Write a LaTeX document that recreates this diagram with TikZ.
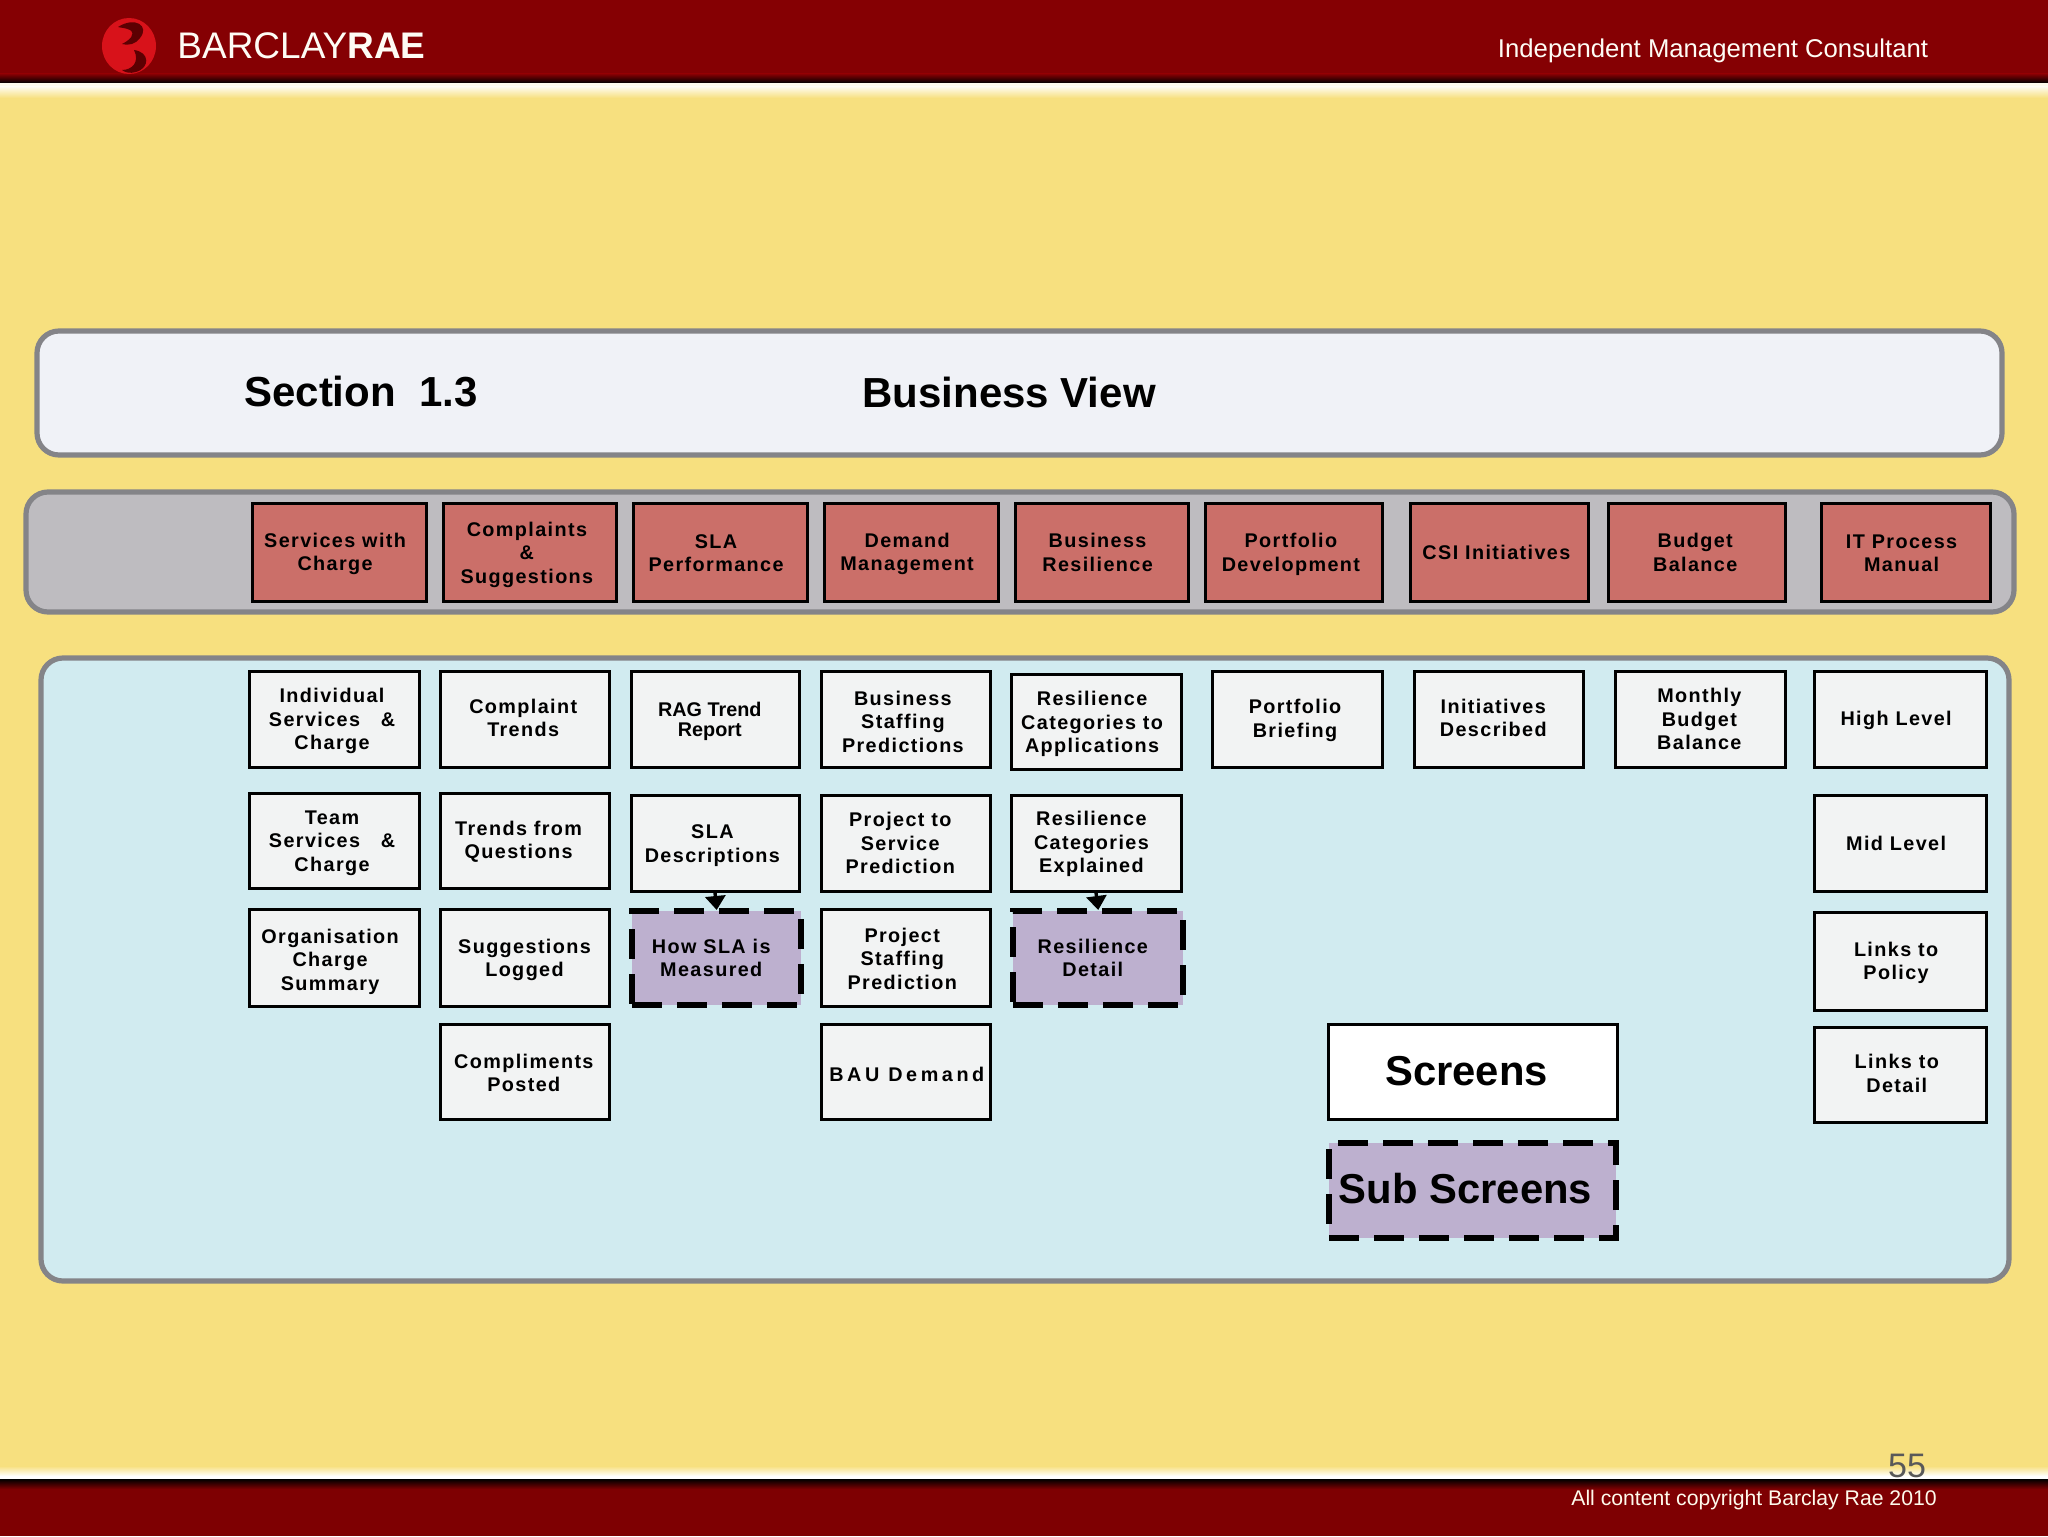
\documentclass[tikz,border=0pt]{standalone}
\usepackage{fontspec}
\setmainfont{Liberation Sans}
\newfontfamily\boxfont[LetterSpace=7]{Liberation Sans}
\newfontfamily\wideboxfont[LetterSpace=18]{Liberation Sans}
\usetikzlibrary{arrows.meta}
\definecolor{bandred}{HTML}{850003}
\definecolor{footred}{HTML}{7E0002}
\definecolor{bgyellow}{HTML}{F7E07F}
\definecolor{paleblue}{HTML}{D1EBF0}
\definecolor{panelwhite}{HTML}{F0F2F7}
\definecolor{panelgrey}{HTML}{BEBCC0}
\definecolor{edgegrey}{HTML}{848488}
\definecolor{topred}{HTML}{CB6F69}
\definecolor{boxgrey}{HTML}{F2F3F3}
\definecolor{subpurple}{HTML}{BDB0CF}
\definecolor{logored}{HTML}{D8121A}
\tikzset{
  x=0.5pt,y=-0.5pt,
  panel/.style={draw=edgegrey,line width=2.6pt,rounded corners=11pt},
  basebox/.style={draw=black,line width=1.5pt,inner sep=0pt},
  boxtext/.style={inner sep=0pt,align=center,text=black,
    font=\boxfont\bfseries\fontsize{9.9}{11.75}\selectfont},
  topbox/.style={basebox,fill=topred},
  contentbox/.style={basebox,fill=boxgrey},
  subbox/.style={basebox,fill=subpurple,line width=3pt,dash pattern=on 15pt off 7.5pt},
  titletext/.style={font=\bfseries\fontsize{21}{24}\selectfont,text=black,inner sep=0pt},
  legendtext/.style={font=\bfseries\fontsize{20.9}{24}\selectfont,text=black,inner sep=0pt},
  linkarrow/.style={draw=black,line width=1.7pt,-{Triangle[length=7pt,width=10pt]},shorten >=-1pt},
}
% name, x0, y0, x1, y1, style, text, text dx, text dy
\newcommand{\bx}[9]{%
  \node[#6,minimum width=\numexpr#4-#2\relax*0.5pt,minimum height=\numexpr#5-#3\relax*0.5pt] (#1) at ({(#2+#4)/2},{(#3+#5)/2}) {};
  \node[boxtext] (#1t) at ({(#2+#4)/2+1.306*(#8)},{(#3+#5)/2+1.306*(#9)}) {#7};}
\begin{document}
\begin{tikzpicture}
\useasboundingbox (0,0) rectangle (2048,1536);
\fill[bgyellow] (0,0) rectangle (2048,1536);
% header band
\fill[bandred] (0,0) rectangle (2048,76);
\shade[top color=bandred,bottom color=black] (0,74) rectangle (2048,83);
\fill[white!85!bgyellow] (0,83) rectangle (2048,87);
\shade[top color=white!85!bgyellow,bottom color=bgyellow] (0,87) rectangle (2048,98);
% footer band
\shade[top color=bgyellow,bottom color=white] (0,1466) rectangle (2048,1476);
\fill[white] (0,1476) rectangle (2048,1479);
\fill[footred] (0,1488) rectangle (2048,1536);
\shade[top color=black,bottom color=footred] (0,1479) rectangle (2048,1489);
% logo
\fill[logored] (129,46) ellipse [x radius=27,y radius=28];
\fill[bandred!70!black] (118,27) .. controls (135,16) and (150,26) .. (140,38) .. controls (136,44) and (128,46) .. (122,44) .. controls (130,40) and (136,34) .. (130,30) .. controls (126,28) and (122,28) .. (118,27);
\fill[bandred!70!black] (134,50) .. controls (150,52) and (150,68) .. (136,72) .. controls (130,74) and (124,72) .. (122,70) .. controls (132,70) and (140,62) .. (134,50);
\node[inner sep=0pt,anchor=west,text=white!92!bgyellow,font=\fontsize{18.5}{20}\selectfont] (logotext) at (177,46) {BARCLAY\textbf{RAE}};
\node[inner sep=0pt,text=white!92!bgyellow,font=\fontsize{12.85}{16}\selectfont] (tagline) at (1713,51) {Independent Management Consultant};
\node[inner sep=0pt,text=white!85!bgyellow,font=\fontsize{10.6}{13}\selectfont] (copyright) at (1754,1500) {All content copyright Barclay Rae 2010};
\node[inner sep=0pt,text=black!65,font=\fontsize{17}{20}\selectfont] (pagenum) at (1907,1466) {55};
% panels
\draw[panel,fill=panelwhite] (37,331) rectangle (2002,455);
\draw[panel,fill=panelgrey] (26,492) rectangle (2014,612);
\draw[panel,fill=paleblue] (41,658) rectangle (2009,1281);
\node[titletext] (sect) at (361,392) {Section\ \ 1.3};
\node[titletext] (bview) at (1009,392) {Business View};
% top row
\bx{t1}{252}{503}{426}{601}{topbox}{Services with\\Charge}{-3}{1.5}
\bx{t2}{443}{503}{616}{601}{topbox}{Complaints\\\&\\Suggestions}{-2}{2}
\bx{t3}{633}{503}{807}{601}{topbox}{SLA\\Performance}{-3}{1}
\bx{t4}{824}{503}{998}{601}{topbox}{Demand\\Management}{-3}{1.5}
\bx{t5}{1015}{503}{1188}{601}{topbox}{Business\\Resilience}{-3}{0.5}
\bx{t6}{1205}{503}{1382}{601}{topbox}{Portfolio\\Development}{-2}{2}
\bx{t7}{1410}{503}{1588}{601}{topbox}{CSI Initiatives}{-2}{0}
\bx{t8}{1608}{503}{1785}{601}{topbox}{Budget\\Balance}{-1}{0.5}
\bx{t9}{1821}{503}{1990}{601}{topbox}{IT Process\\Manual}{-3}{1}
% column 1
\bx{a1}{249}{671}{419}{767}{contentbox}{Individual\\Services\ \ \ \&\\Charge}{-1.5}{1.5}
\bx{a2}{249}{793}{419}{888}{contentbox}{Team\\Services\ \ \ \&\\Charge}{-1.5}{2}
\bx{a3}{249}{909}{419}{1006}{contentbox}{Organisation\\Charge\\Summary}{-3}{3}
% column 2
\bx{b1}{440}{671}{609}{767}{contentbox}{Complaint\\Trends}{-1}{-1}
\bx{b2}{440}{793}{609}{888}{contentbox}{Trends from\\Questions}{-4.5}{1}
\bx{b3}{440}{909}{609}{1006}{contentbox}{Suggestions\\Logged}{0}{2}
\bx{b4}{440}{1024}{609}{1119}{contentbox}{Compliments\\Posted}{-0.5}{1}
% column 3
\bx{c1}{631}{671}{799}{767}{contentbox}{\normalfont\bfseries RAG Trend\\[-1.5pt]\normalfont\bfseries Report}{-4}{2}
\bx{c2}{631}{795}{799}{891}{contentbox}{SLA\\Descriptions}{-2}{2}
\bx{c3}{632}{911}{801}{1005}{subbox}{How SLA is\\Measured}{-4}{0}
% column 4
\bx{d1}{821}{671}{990}{767}{contentbox}{Business\\Staffing\\Predictions}{-2}{2}
\bx{d2}{821}{795}{990}{891}{contentbox}{Project to\\Service\\Prediction}{-4}{0}
\bx{d3}{821}{909}{990}{1006}{contentbox}{Project\\Staffing\\Prediction}{-2.5}{1}
\bx{d4}{821}{1024}{990}{1119}{contentbox}{\wideboxfont\bfseries BAU Demand}{1}{2}
% column 5
\bx{e1}{1011}{674}{1181}{769}{contentbox}{Resilience\\Categories to\\Applications}{-3}{2}
\bx{e2}{1011}{795}{1181}{891}{contentbox}{Resilience\\Categories\\Explained}{-3.5}{1}
\bx{e3}{1013}{911}{1183}{1005}{subbox}{Resilience\\Detail}{-4}{0}
% other columns
\bx{f1}{1212}{671}{1382}{767}{contentbox}{Portfolio\\Briefing}{-1.5}{1}
\bx{g1}{1414}{671}{1583}{767}{contentbox}{Initiatives\\Described}{-4}{-1}
\bx{h1}{1615}{671}{1785}{767}{contentbox}{Monthly\\Budget\\Balance}{-0.5}{0}
\bx{i1}{1814}{671}{1986}{767}{contentbox}{High Level}{-3}{1}
\bx{i2}{1814}{795}{1986}{891}{contentbox}{Mid Level}{-3}{0}
\bx{i3}{1814}{912}{1986}{1010}{contentbox}{Links to\\Policy}{-3}{1.5}
\bx{i4}{1814}{1027}{1986}{1122}{contentbox}{Links to\\Detail}{-2.5}{-1}
% legend
\node[basebox,fill=white,minimum width=144.5pt,minimum height=47.5pt] (screens) at (1472.5,1071.5) {};
\node[legendtext] (screenst) at (1466.5,1071.5) {Screens};
\node[subbox,minimum width=143.5pt,minimum height=47.5pt] (subscreens) at (1472.5,1190.5) {};
\node[legendtext] (subscreenst) at (1465.5,1189) {Sub Screens};
% connectors
\draw[linkarrow] (c2.south) -- (c3.north);
\draw[linkarrow] (e2.south) -- (e3.north);
\end{tikzpicture}
\end{document}
